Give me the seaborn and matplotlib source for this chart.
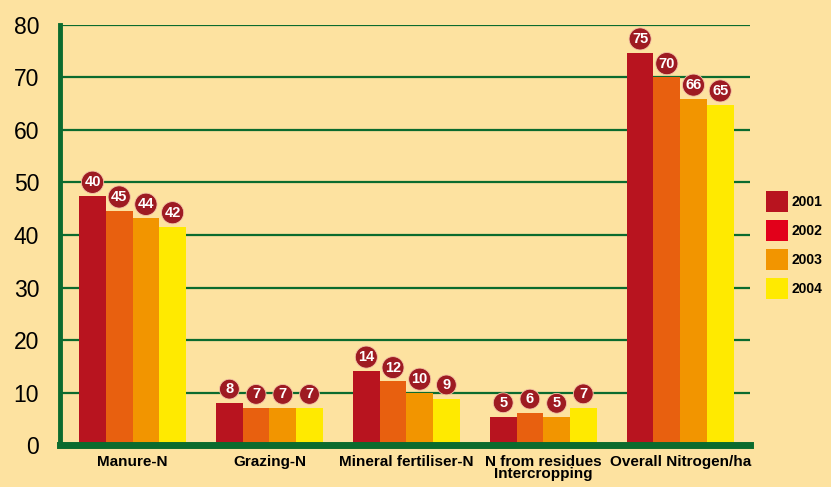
import pandas as pd
import numpy as np
import matplotlib.pyplot as plt
import seaborn as sns
from matplotlib.patches import Patch
from matplotlib import font_manager

# 数据
categories = ['Manure-N', 'Grazing-N', 'Mineral fertiliser-N',
              'N from residues\nIntercropping', 'Overall Nitrogen/ha']
years = ['2001', '2002', '2003', '2004']
values_2001 = [47.4, 8.0, 14.1, 5.4, 74.7]
values_2002 = [44.6, 7.0, 12.1, 6.1, 70.0]
values_2003 = [43.2, 7.0, 9.9, 5.3, 65.9]
values_2004 = [41.6, 7.0, 8.8, 7.1, 64.8]
labels_2001 = [40, 8, 14, 5, 75]
labels_2002 = [45, 7, 12, 6, 70]
labels_2003 = [44, 7, 10, 5, 66]
labels_2004 = [42, 7, 9, 7, 65]

bar_colors = ['#B8141F', '#E8600F', '#F29500', '#FFEA00']
legend_colors = ['#B8141F', '#E2001A', '#F29500', '#FFEA00']
bg = '#FDE2A0'
green = '#0B6B2E'

sns.set_style('white')
plt.rcParams['font.family'] = ['Liberation Sans', 'DejaVu Sans']
plt.rcParams['text.color'] = 'black'
plt.rcParams['xtick.color'] = 'black'
plt.rcParams['ytick.color'] = 'black'

# 窄体字体（如有）
try:
    font_manager.findfont('Liberation Sans Narrow', fallback_to_default=False)
    narrow = ['Liberation Sans Narrow', 'Liberation Sans']
    xl_size, lg_size, lab_size = 13, 11.5, 11.5
except Exception:
    narrow = ['Liberation Sans', 'DejaVu Sans']
    xl_size, lg_size, lab_size = 11, 10, 10.5

df = pd.DataFrame({
    'category': categories * 4,
    'year': np.repeat(years, len(categories)),
    'value': values_2001 + values_2002 + values_2003 + values_2004,
})
labels = [labels_2001, labels_2002, labels_2003, labels_2004]

fig = plt.figure(figsize=(8.31, 4.87), dpi=100, facecolor=bg)
ax = fig.add_axes([0.0722, 0.0862, 0.8303, 0.8625])
ax.set_facecolor(bg)

sns.barplot(data=df, x='category', y='value', hue='year', palette=bar_colors,
            width=0.78, saturation=1, legend=False, ax=ax, zorder=3,
            linewidth=0)

# 圆形数值标签
for cont, labs in zip(ax.containers, labels):
    for bar, lab in zip(cont, labs):
        x = bar.get_x() + bar.get_width() / 2
        y = bar.get_height()
        ax.annotate(str(lab), (x, y), xytext=(0, 10), textcoords='offset points',
                    ha='center', va='center', color='white', fontsize=lab_size,
                    fontweight='bold', family=narrow, zorder=6,
                    bbox=dict(boxstyle='circle,pad=0.2', fc='#9E1B22', ec='#F3C6A8', lw=0.6))

ax.set_xlim(-0.53, 4.51)
ax.set_ylim(0, 80)
ax.set_yticks(range(0, 81, 10))
for yv in range(10, 81, 10):
    ax.axhline(yv, color=green, lw=1.6, zorder=1)

ax.set_xlabel('')
ax.set_ylabel('')
for s in ['top', 'right']:
    ax.spines[s].set_visible(False)
ax.spines['left'].set_color(green)
ax.spines['left'].set_linewidth(3.5)
ax.spines['bottom'].set_color(green)
ax.spines['bottom'].set_linewidth(5)
ax.spines['bottom'].set_zorder(5)

ax.tick_params(axis='y', length=9, width=1.6, color=green, labelcolor='black',
               labelsize=16.5, pad=6, direction='out')
ax.tick_params(axis='x', length=0, pad=7, labelcolor='black')
for t in ax.get_xticklabels():
    t.set_fontweight('bold')
    t.set_fontsize(xl_size)
    t.set_family(narrow)
    t.set_linespacing(0.85)
    t.set_va('top')

handles = [Patch(facecolor=c, edgecolor='none', label=y) for c, y in zip(legend_colors, years)]
leg = fig.legend(handles=handles, loc='upper left', bbox_to_anchor=(0.907, 0.634),
                 frameon=False, handlelength=1.58, handleheight=1.95, labelspacing=0.58,
                 handletextpad=0.25, prop={'weight': 'bold', 'size': lg_size, 'family': narrow})
for t in leg.get_texts():
    t.set_color('black')

plt.savefig('out.png', dpi=100, facecolor=bg)
